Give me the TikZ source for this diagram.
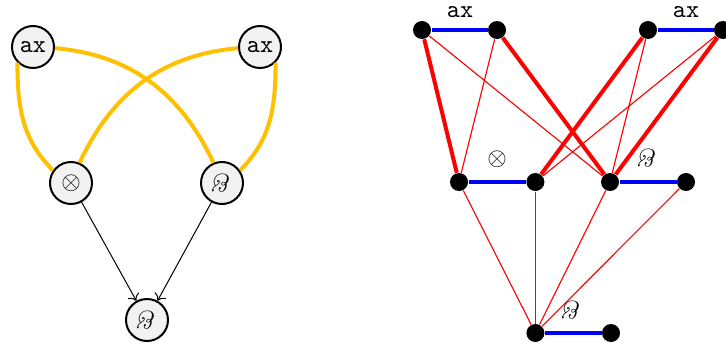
\documentclass[tikz,border=0pt]{standalone}
\usetikzlibrary{arrows.meta}
\definecolor{axyellow}{RGB}{255,192,0}
\newcommand{\parsym}{\rotatebox[origin=c]{180}{\textit{\&}}}
\tikzset{
  formula/.style={
    draw,circle,thick,fill=black!5,
    inner sep=0pt,minimum size=16.8pt
  },
  axlink/.style={axyellow,line width=1.6pt},
  dot/.style={circle,fill=black,inner sep=0pt,minimum size=7.2pt},
  pair/.style={blue,line width=1.6pt},
  strong/.style={red,line width=1.6pt},
  weak/.style={red,line width=0.45pt}
}

\begin{document}
\begin{tikzpicture}[x=0.4pt,y=0.4pt]
\useasboundingbox (0,0) rectangle (726,348);

% left: the proof structure
\node[formula] (ax1) at (33,301) {\ttfamily ax};
\node[formula] (ax2) at (260,301) {\ttfamily ax};
\node[formula] (tens) at (71,165) {$\otimes$};
\node[formula] (par1) at (222,165) {\parsym};
\node[formula] (par2) at (147,28) {\parsym};

\draw[axlink] (ax1.-135) to[out=-90,in=135] (tens.145);
\draw[axlink] (ax1.-3) to[out=-5,in=115] (par1.113);
\draw[axlink] (ax2.183) to[out=185,in=65] (tens.67);
\draw[axlink] (ax2.-45) to[out=-90,in=45] (par1.35);

\draw[->] (tens) -- (par2);
\draw[->] (par1) -- (par2);

% right: the graph
\node[dot] (t1) at (422,318) {};
\node[dot] (t2) at (497,318) {};
\node[dot] (t3) at (648,318) {};
\node[dot] (t4) at (723,318) {};
\node[dot] (m1) at (459,166) {};
\node[dot] (m2) at (535.4,166) {};
\node[dot] (m3) at (610,166) {};
\node[dot] (m4) at (686,166) {};
\node[dot] (b1) at (535.4,15) {};
\node[dot] (b2) at (611,15) {};

\foreach \a/\b in {t1/m3,t2/m1,t3/m3,t4/m2,m1/b1,m2/b1,m3/b1,m4/b1}
  \draw[weak] (\a) -- (\b);
\foreach \a/\b in {t1/m1,t2/m3,t3/m2,t4/m3}
  \draw[strong] (\a) -- (\b);
\foreach \a/\b in {t1/t2,t3/t4,m1/m2,m3/m4,b1/b2}
  \draw[pair] (\a) -- (\b);

\node (axl) at (460,336) {\ttfamily ax};
\node (axr) at (686,336) {\ttfamily ax};
\node (tensl) at (497,189) {$\otimes$};
\node (parl) at (648,190) {\parsym};
\node (parb) at (572,38) {\parsym};

\end{tikzpicture}
\end{document}
